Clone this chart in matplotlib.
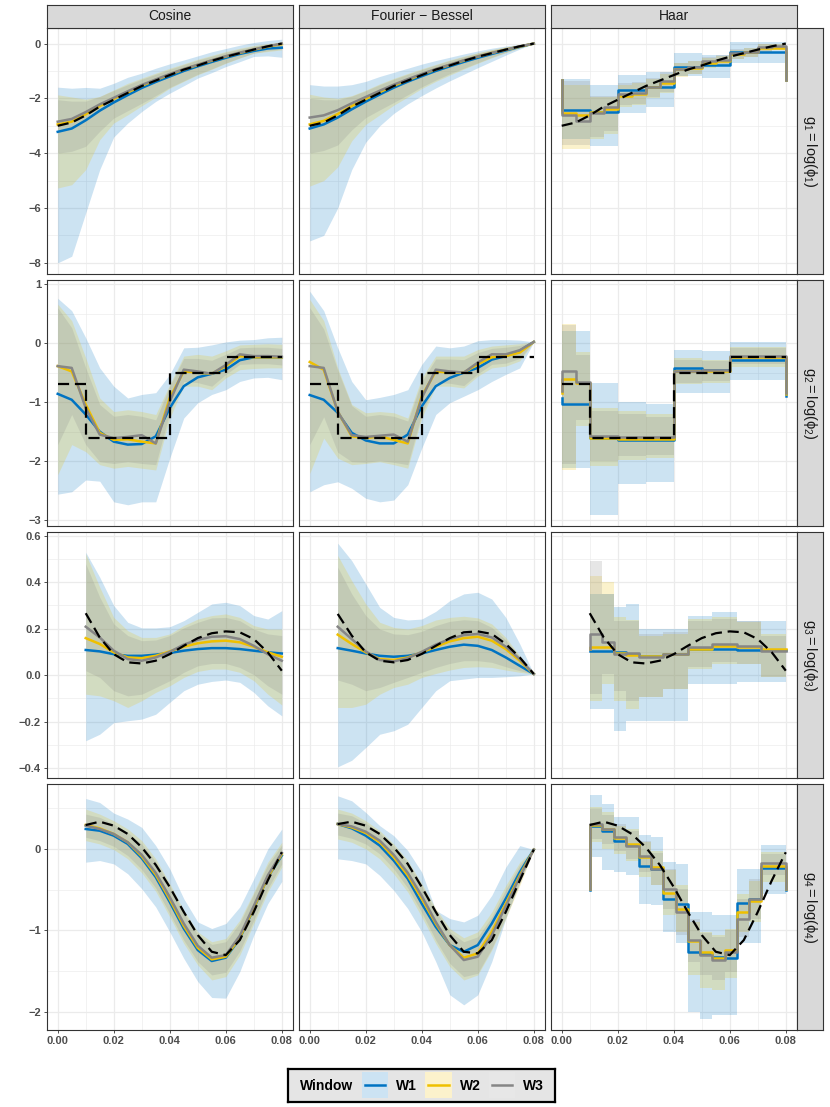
import numpy as np
import matplotlib
matplotlib.use("Agg")
import matplotlib.pyplot as plt
from matplotlib.colors import to_rgb

plt.rcParams['font.family'] = ['Liberation Sans', 'DejaVu Sans']
plt.rcParams['mathtext.fontset'] = 'custom'
plt.rcParams['mathtext.rm'] = 'Liberation Sans'
plt.rcParams['mathtext.it'] = 'Liberation Sans:italic'

# ---------------- data ----------------
windows = ["W1", "W2", "W3"]
bases = ["Cosine", "Fourier \u2212 Bessel", "Haar"]
row_labels = [r"$\mathrm{g_1 = log(\phi_1)}$", r"$\mathrm{g_2 = log(\phi_2)}$",
              r"$\mathrm{g_3 = log(\phi_3)}$", r"$\mathrm{g_4 = log(\phi_4)}$"]

x_full = [0.000, 0.005, 0.010, 0.015, 0.020, 0.025, 0.030, 0.035, 0.040,
          0.045, 0.050, 0.055, 0.060, 0.065, 0.070, 0.075, 0.080]
x_part = [0.010, 0.015, 0.020, 0.025, 0.030, 0.035, 0.040,
          0.045, 0.050, 0.055, 0.060, 0.065, 0.070, 0.075, 0.080]
x_ticks = [0.00, 0.02, 0.04, 0.06, 0.08]
y_ticks = [[-8, -6, -4, -2, 0], [-3, -2, -1, 0, 1],
           [-0.4, -0.2, 0.0, 0.2, 0.4, 0.6], [-2, -1, 0]]

# true functions
g1_true = [-3.0, -2.88, -2.62, -2.3, -2.05, -1.8, -1.55, -1.35, -1.15, -0.95, -0.8, -0.63, -0.48, -0.35, -0.22, -0.1, 0.0]
g2_edges = [0.0, 0.01, 0.04, 0.06, 0.08]
g2_levels = [-0.69, -1.6, -0.51, -0.23]
g3_true = [0.266, 0.162, 0.09, 0.055, 0.05, 0.062, 0.09, 0.126, 0.159, 0.18, 0.188, 0.184, 0.155, 0.098, 0.019]
g3_true_fb = [0.263, 0.17, 0.098, 0.062, 0.055, 0.065, 0.091, 0.126, 0.159, 0.184, 0.188, 0.177, 0.134, 0.076, 0.005]
g4_true = [0.294, 0.335, 0.286, 0.184, 0.02, -0.196, -0.469, -0.775, -1.06, -1.265, -1.306, -1.122, -0.775, -0.388, -0.041]
g4_true_fb = [0.306, 0.335, 0.286, 0.184, 0.02, -0.184, -0.469, -0.775, -1.06, -1.265, -1.285, -1.122, -0.775, -0.388, -0.008]

# Cosine, g1
cos_g1 = {"W1": [-3.22, -3.1, -2.8, -2.45, -2.15, -1.88, -1.62, -1.4, -1.2, -1.0, -0.83, -0.67, -0.52, -0.38, -0.27, -0.18, -0.15],
          "W2": [-2.95, -2.85, -2.58, -2.28, -2.02, -1.78, -1.54, -1.33, -1.13, -0.94, -0.78, -0.62, -0.47, -0.34, -0.22, -0.11, -0.02],
          "W3": [-2.85, -2.75, -2.5, -2.22, -1.98, -1.74, -1.51, -1.31, -1.11, -0.93, -0.77, -0.61, -0.46, -0.33, -0.21, -0.1, 0.0]}
cos_g1_hi = {"W1": [-1.59, -1.63, -1.6, -1.63, -1.45, -1.23, -1.08, -0.9, -0.74, -0.6, -0.45, -0.3, -0.18, -0.06, 0.04, 0.11, 0.16],
             "W2": [-1.87, -1.95, -2.03, -1.93, -1.69, -1.45, -1.26, -1.08, -0.9, -0.74, -0.57, -0.43, -0.29, -0.17, -0.07, 0.0, 0.04],
             "W3": [-2.05, -2.1, -2.1, -1.93, -1.71, -1.5, -1.3, -1.12, -0.94, -0.77, -0.6, -0.46, -0.32, -0.2, -0.1, -0.02, 0.02]}
cos_g1_lo = {"W1": [-8.0, -7.76, -6.18, -4.6, -3.41, -2.9, -2.48, -2.11, -1.81, -1.54, -1.26, -1.06, -0.84, -0.66, -0.47, -0.45, -0.5],
             "W2": [-5.27, -5.15, -4.6, -3.51, -2.9, -2.6, -2.27, -1.96, -1.63, -1.38, -1.14, -0.94, -0.72, -0.53, -0.35, -0.29, -0.23],
             "W3": [-4.0, -3.93, -3.75, -3.2, -2.72, -2.45, -2.18, -1.9, -1.6, -1.36, -1.12, -0.92, -0.71, -0.52, -0.35, -0.26, -0.2]}

# Fourier-Bessel, g1
fb_g1 = {"W1": [-3.1, -2.95, -2.7, -2.4, -2.12, -1.86, -1.61, -1.39, -1.19, -1.0, -0.83, -0.67, -0.52, -0.38, -0.25, -0.12, 0.0],
         "W2": [-2.95, -2.82, -2.57, -2.28, -2.02, -1.77, -1.54, -1.33, -1.13, -0.94, -0.78, -0.62, -0.47, -0.34, -0.22, -0.11, 0.0],
         "W3": [-2.7, -2.62, -2.43, -2.18, -1.95, -1.72, -1.5, -1.3, -1.11, -0.93, -0.77, -0.61, -0.47, -0.34, -0.22, -0.1, 0.0]}
fb_g1_hi = {"W1": [-1.5, -1.55, -1.55, -1.5, -1.38, -1.2, -1.05, -0.9, -0.75, -0.62, -0.5, -0.38, -0.27, -0.17, -0.09, -0.03, 0.0],
            "W2": [-1.85, -1.95, -2.0, -1.9, -1.7, -1.47, -1.27, -1.09, -0.92, -0.76, -0.6, -0.46, -0.33, -0.22, -0.12, -0.05, 0.0],
            "W3": [-2.0, -2.05, -2.05, -1.92, -1.72, -1.5, -1.3, -1.12, -0.95, -0.78, -0.62, -0.48, -0.35, -0.23, -0.13, -0.05, 0.0]}
fb_g1_lo = {"W1": [-7.2, -7.0, -6.0, -4.6, -3.6, -3.0, -2.55, -2.2, -1.9, -1.62, -1.36, -1.12, -0.88, -0.65, -0.42, -0.2, 0.0],
            "W2": [-5.2, -5.0, -4.5, -3.55, -2.95, -2.6, -2.25, -1.95, -1.64, -1.38, -1.15, -0.93, -0.72, -0.52, -0.33, -0.16, 0.0],
            "W3": [-4.0, -3.9, -3.7, -3.15, -2.7, -2.42, -2.15, -1.87, -1.58, -1.33, -1.1, -0.9, -0.7, -0.5, -0.32, -0.15, 0.0]}

# Cosine, g2
cos_g2 = {"W1": [-0.86, -0.96, -1.21, -1.5, -1.67, -1.72, -1.71, -1.58, -1.1, -0.73, -0.58, -0.52, -0.45, -0.29, -0.24, -0.24, -0.24],
          "W2": [-0.39, -0.48, -1.04, -1.52, -1.64, -1.63, -1.67, -1.7, -0.93, -0.48, -0.5, -0.52, -0.39, -0.22, -0.24, -0.24, -0.24],
          "W3": [-0.39, -0.42, -1.1, -1.55, -1.61, -1.59, -1.56, -1.7, -0.99, -0.45, -0.48, -0.52, -0.37, -0.19, -0.22, -0.22, -0.23]}
cos_g2_hi = {"W1": [0.76, 0.55, 0.09, -0.42, -0.73, -0.93, -0.87, -0.84, -0.53, -0.08, -0.07, -0.03, 0.02, 0.05, 0.06, 0.09, 0.1],
             "W2": [0.66, 0.38, -0.25, -0.93, -1.16, -1.13, -1.16, -1.21, -0.7, -0.22, -0.19, -0.22, -0.13, -0.03, -0.02, -0.01, -0.02],
             "W3": [0.6, 0.26, -0.42, -1.04, -1.24, -1.21, -1.24, -1.3, -0.73, -0.26, -0.26, -0.29, -0.19, -0.08, -0.07, -0.07, -0.09]}
cos_g2_lo = {"W1": [-2.56, -2.52, -2.32, -2.34, -2.69, -2.74, -2.69, -2.69, -1.95, -1.27, -1.01, -0.87, -0.79, -0.65, -0.59, -0.58, -0.62],
             "W2": [-2.23, -1.72, -1.84, -2.06, -2.12, -2.09, -2.12, -2.15, -1.27, -0.73, -0.73, -0.79, -0.59, -0.45, -0.43, -0.42, -0.42],
             "W3": [-1.72, -1.21, -1.72, -2.01, -2.04, -2.01, -2.04, -2.06, -1.18, -0.65, -0.67, -0.73, -0.53, -0.36, -0.35, -0.35, -0.37]}

# Fourier-Bessel, g2
fb_g2 = {"W1": [-0.88, -0.96, -1.18, -1.52, -1.65, -1.7, -1.7, -1.55, -1.07, -0.73, -0.59, -0.5, -0.42, -0.28, -0.22, -0.13, 0.02],
         "W2": [-0.32, -0.45, -1.16, -1.58, -1.61, -1.58, -1.64, -1.7, -0.9, -0.48, -0.5, -0.5, -0.36, -0.24, -0.22, -0.16, 0.02],
         "W3": [-0.39, -0.42, -1.16, -1.56, -1.59, -1.57, -1.55, -1.67, -0.93, -0.45, -0.48, -0.5, -0.33, -0.19, -0.19, -0.12, 0.02]}
fb_g2_hi = {"W1": [0.88, 0.55, -0.08, -0.65, -0.96, -0.92, -0.87, -0.79, -0.36, -0.05, -0.08, -0.05, 0.04, 0.06, 0.06, 0.05, 0.02],
            "W2": [0.74, 0.38, -0.42, -1.04, -1.18, -1.16, -1.18, -1.27, -0.59, -0.22, -0.22, -0.22, -0.11, -0.05, -0.03, -0.01, 0.02],
            "W3": [0.6, 0.24, -0.46, -1.06, -1.24, -1.21, -1.24, -1.32, -0.65, -0.27, -0.27, -0.28, -0.16, -0.09, -0.07, -0.04, 0.02]}
fb_g2_lo = {"W1": [-2.52, -2.4, -2.35, -2.46, -2.63, -2.69, -2.66, -2.4, -1.78, -1.21, -1.01, -0.9, -0.79, -0.65, -0.53, -0.42, 0.02],
            "W2": [-2.21, -1.61, -1.95, -2.06, -2.04, -2.01, -2.06, -2.12, -1.27, -0.73, -0.73, -0.76, -0.56, -0.42, -0.39, -0.3, 0.02],
            "W3": [-1.72, -1.25, -1.85, -2.01, -2.02, -1.99, -2.02, -2.06, -1.2, -0.67, -0.68, -0.72, -0.52, -0.36, -0.34, -0.26, 0.02]}

# Cosine, g3
cos_g3 = {"W1": [0.108, 0.102, 0.09, 0.083, 0.083, 0.088, 0.095, 0.105, 0.112, 0.116, 0.116, 0.112, 0.105, 0.098, 0.093],
          "W2": [0.159, 0.134, 0.098, 0.076, 0.073, 0.083, 0.102, 0.122, 0.137, 0.145, 0.148, 0.141, 0.122, 0.098, 0.079],
          "W3": [0.208, 0.162, 0.105, 0.069, 0.062, 0.076, 0.1, 0.131, 0.152, 0.165, 0.167, 0.155, 0.126, 0.09, 0.062]}
cos_g3_hi = {"W1": [0.528, 0.421, 0.299, 0.227, 0.203, 0.203, 0.208, 0.234, 0.27, 0.306, 0.313, 0.299, 0.256, 0.241, 0.277],
             "W2": [0.521, 0.378, 0.248, 0.191, 0.162, 0.162, 0.177, 0.213, 0.241, 0.256, 0.263, 0.248, 0.213, 0.198, 0.198],
             "W3": [0.478, 0.335, 0.22, 0.17, 0.148, 0.151, 0.17, 0.203, 0.227, 0.246, 0.248, 0.234, 0.198, 0.177, 0.17]}
cos_g3_lo = {"W1": [-0.282, -0.254, -0.204, -0.196, -0.189, -0.168, -0.117, -0.067, -0.039, -0.027, -0.021, -0.031, -0.074, -0.132, -0.175],
             "W2": [-0.082, -0.089, -0.11, -0.139, -0.11, -0.074, -0.046, -0.01, 0.016, 0.026, 0.026, 0.012, -0.024, -0.082, -0.128],
             "W3": [0.019, -0.01, -0.067, -0.089, -0.082, -0.053, -0.024, 0.012, 0.04, 0.05, 0.05, 0.033, 0.002, -0.046, -0.082]}

# Fourier-Bessel, g3
fb_g3 = {"W1": [0.116, 0.105, 0.093, 0.083, 0.079, 0.083, 0.093, 0.108, 0.122, 0.131, 0.126, 0.108, 0.076, 0.04, 0.005],
         "W2": [0.174, 0.134, 0.098, 0.069, 0.065, 0.076, 0.098, 0.122, 0.145, 0.159, 0.165, 0.148, 0.112, 0.062, 0.005],
         "W3": [0.208, 0.155, 0.102, 0.065, 0.059, 0.073, 0.1, 0.131, 0.155, 0.172, 0.177, 0.162, 0.122, 0.069, 0.005]}
fb_g3_hi = {"W1": [0.567, 0.492, 0.392, 0.291, 0.248, 0.237, 0.241, 0.274, 0.32, 0.349, 0.356, 0.327, 0.248, 0.134, 0.005],
            "W2": [0.514, 0.406, 0.306, 0.227, 0.205, 0.198, 0.213, 0.237, 0.248, 0.253, 0.246, 0.22, 0.162, 0.083, 0.005],
            "W3": [0.464, 0.349, 0.256, 0.198, 0.177, 0.174, 0.188, 0.213, 0.231, 0.238, 0.234, 0.205, 0.151, 0.079, 0.005]}
fb_g3_lo = {"W1": [-0.394, -0.366, -0.311, -0.254, -0.239, -0.211, -0.139, -0.067, -0.024, -0.017, -0.01, -0.01, -0.007, -0.003, 0.005],
            "W2": [-0.139, -0.139, -0.125, -0.082, -0.053, -0.039, -0.01, 0.007, 0.022, 0.033, 0.036, 0.033, 0.022, 0.012, 0.005],
            "W3": [-0.021, -0.039, -0.067, -0.053, -0.031, -0.01, 0.012, 0.033, 0.05, 0.062, 0.062, 0.055, 0.036, 0.019, 0.005]}

# Cosine, g4
cos_g4 = {"W1": [0.245, 0.224, 0.163, 0.061, -0.114, -0.347, -0.653, -0.979, -1.244, -1.379, -1.338, -1.102, -0.734, -0.347, -0.082],
          "W2": [0.294, 0.253, 0.184, 0.082, -0.09, -0.318, -0.62, -0.947, -1.216, -1.359, -1.326, -1.093, -0.726, -0.347, -0.065],
          "W3": [0.286, 0.245, 0.184, 0.082, -0.073, -0.294, -0.592, -0.918, -1.191, -1.338, -1.306, -1.069, -0.702, -0.326, -0.049]}
cos_g4_hi = {"W1": [0.62, 0.571, 0.441, 0.367, 0.265, 0.041, -0.245, -0.612, -0.898, -0.979, -0.918, -0.714, -0.367, 0.0, 0.245],
             "W2": [0.49, 0.428, 0.347, 0.245, 0.102, -0.122, -0.428, -0.755, -1.02, -1.142, -1.102, -0.877, -0.53, -0.163, 0.082],
             "W3": [0.428, 0.388, 0.306, 0.204, 0.061, -0.155, -0.457, -0.783, -1.053, -1.175, -1.142, -0.91, -0.551, -0.196, 0.049]}
cos_g4_lo = {"W1": [-0.163, -0.143, -0.184, -0.306, -0.49, -0.714, -1.02, -1.346, -1.632, -1.828, -1.836, -1.51, -1.061, -0.673, -0.4],
             "W2": [0.102, 0.061, -0.008, -0.122, -0.294, -0.522, -0.836, -1.163, -1.428, -1.612, -1.571, -1.306, -0.918, -0.53, -0.224],
             "W3": [0.143, 0.102, 0.033, -0.082, -0.253, -0.481, -0.796, -1.122, -1.387, -1.55, -1.518, -1.257, -0.877, -0.49, -0.184]}

# Fourier-Bessel, g4
fb_g4 = {"W1": [0.306, 0.253, 0.163, 0.041, -0.143, -0.367, -0.673, -0.959, -1.183, -1.265, -1.183, -0.918, -0.612, -0.286, -0.008],
         "W2": [0.306, 0.265, 0.196, 0.082, -0.102, -0.326, -0.612, -0.918, -1.183, -1.338, -1.285, -1.02, -0.673, -0.326, -0.008],
         "W3": [0.306, 0.277, 0.212, 0.102, -0.073, -0.294, -0.579, -0.898, -1.183, -1.367, -1.326, -1.061, -0.702, -0.347, -0.008]}
fb_g4_hi = {"W1": [0.653, 0.592, 0.449, 0.286, 0.163, -0.02, -0.286, -0.755, -0.857, -0.898, -0.816, -0.571, -0.224, 0.041, -0.008],
            "W2": [0.49, 0.441, 0.347, 0.224, 0.061, -0.143, -0.428, -0.734, -0.979, -1.093, -1.02, -0.775, -0.449, -0.163, -0.008],
            "W3": [0.441, 0.408, 0.318, 0.196, 0.033, -0.171, -0.457, -0.767, -1.02, -1.142, -1.081, -0.836, -0.498, -0.196, -0.008]}
fb_g4_lo = {"W1": [-0.122, -0.143, -0.184, -0.326, -0.51, -0.734, -1.02, -1.387, -1.795, -1.918, -1.795, -1.387, -0.857, -0.408, -0.008],
            "W2": [0.122, 0.082, 0.0, -0.122, -0.306, -0.53, -0.836, -1.163, -1.448, -1.612, -1.55, -1.244, -0.857, -0.449, -0.008],
            "W3": [0.171, 0.131, 0.061, -0.061, -0.245, -0.481, -0.783, -1.122, -1.408, -1.571, -1.53, -1.224, -0.836, -0.428, -0.008]}

# Haar, g1 (bins on [0, 0.08])
haar_g1 = {"W1": [-2.42, -2.5, -1.71, -1.59, -0.84, -0.78, -0.29, -0.29],
           "W2": [-2.55, -2.62, -2.5, -2.38, -1.9, -1.85, -1.6, -1.45, -0.93, -0.88, -0.7, -0.62, -0.38, -0.32, -0.18, -0.15],
           "W3": [-2.6, -2.84, -2.54, -2.32, -1.84, -1.81, -1.59, -1.38, -0.94, -0.84, -0.65, -0.59, -0.35, -0.29, -0.11, -0.08]}
haar_g1_ends = {"W1": (-1.32, -1.32), "W2": (-1.32, -1.32), "W3": (-1.32, -1.32)}
haar_g1_hi = {"W1": [-1.3, -1.5, -1.14, -1.02, -0.35, -0.41, 0.04, 0.04],
              "W2": [-1.5, -1.5, -1.95, -1.95, -1.5, -1.45, -1.3, -1.1, -0.72, -0.65, -0.52, -0.45, -0.22, -0.17, -0.03, 0.0],
              "W3": [-1.35, -1.35, -1.9, -1.9, -1.45, -1.4, -1.25, -1.05, -0.7, -0.62, -0.5, -0.42, -0.2, -0.15, -0.02, 0.0]}
haar_g1_lo = {"W1": [-3.5, -3.75, -2.54, -2.3, -1.2, -1.26, -0.72, -0.72],
              "W2": [-3.85, -3.85, -3.5, -3.3, -2.3, -2.25, -2.0, -1.8, -1.22, -1.12, -0.88, -0.8, -0.56, -0.5, -0.32, -0.22],
              "W3": [-3.7, -3.7, -3.4, -3.2, -2.25, -2.2, -1.95, -1.75, -1.2, -1.1, -0.85, -0.78, -0.55, -0.48, -0.3, -0.2]}

# Haar, g2 (bins on [0, 0.08])
haar_g2 = {"W1": [-1.03, -1.61, -1.64, -1.64, -0.43, -0.45, -0.28, -0.28],
           "W2": [-0.6, -0.67, -1.6, -1.6, -1.62, -1.62, -1.62, -1.62, -0.47, -0.47, -0.47, -0.47, -0.24, -0.24, -0.24, -0.24],
           "W3": [-0.48, -0.66, -1.58, -1.58, -1.59, -1.59, -1.59, -1.59, -0.48, -0.48, -0.46, -0.46, -0.22, -0.22, -0.22, -0.22]}
haar_g2_ends = {"W1": (-0.93, -0.9), "W2": (-0.84, -0.87), "W3": (-0.82, -0.84)}
haar_g2_hi = {"W1": [0.2, -0.67, -1.0, -1.04, -0.11, -0.13, 0.02, 0.02],
              "W2": [0.33, -0.15, -1.1, -1.1, -1.15, -1.15, -1.2, -1.2, -0.26, -0.26, -0.28, -0.28, -0.07, -0.07, -0.07, -0.07],
              "W3": [0.3, -0.2, -1.15, -1.15, -1.2, -1.2, -1.25, -1.25, -0.28, -0.28, -0.3, -0.3, -0.09, -0.09, -0.09, -0.09]}
haar_g2_lo = {"W1": [-2.12, -2.91, -2.38, -2.35, -0.84, -0.84, -0.62, -0.62],
              "W2": [-2.15, -1.4, -2.08, -2.08, -1.98, -1.98, -1.95, -1.95, -0.7, -0.7, -0.68, -0.68, -0.4, -0.4, -0.4, -0.4],
              "W3": [-2.05, -1.3, -2.0, -2.0, -1.92, -1.92, -1.9, -1.9, -0.67, -0.67, -0.65, -0.65, -0.36, -0.36, -0.36, -0.36]}

# Haar, g3 (bins on [0.01, 0.08])
haar_g3 = {"W1": [0.105, 0.102, 0.098, 0.091, 0.083, 0.083, 0.091, 0.091, 0.112, 0.112, 0.112, 0.112, 0.108, 0.108, 0.108, 0.108],
           "W2": [0.122, 0.119, 0.093, 0.088, 0.083, 0.083, 0.091, 0.091, 0.112, 0.112, 0.126, 0.126, 0.122, 0.122, 0.112, 0.112],
           "W3": [0.177, 0.141, 0.091, 0.093, 0.079, 0.079, 0.091, 0.091, 0.122, 0.122, 0.134, 0.134, 0.126, 0.126, 0.105, 0.105]}
haar_g3_ends = {"W1": (0.105, 0.108), "W2": (0.112, 0.112), "W3": (0.112, 0.105)}
haar_g3_hi = {"W1": [0.349, 0.349, 0.294, 0.306, 0.198, 0.198, 0.198, 0.198, 0.256, 0.256, 0.27, 0.27, 0.234, 0.234, 0.234, 0.234],
              "W2": [0.428, 0.4, 0.248, 0.237, 0.17, 0.17, 0.177, 0.177, 0.241, 0.241, 0.248, 0.248, 0.227, 0.227, 0.177, 0.177],
              "W3": [0.492, 0.349, 0.234, 0.234, 0.177, 0.177, 0.184, 0.184, 0.234, 0.234, 0.241, 0.241, 0.234, 0.234, 0.17, 0.17]}
haar_g3_lo = {"W1": [-0.146, -0.146, -0.239, -0.196, -0.196, -0.196, -0.196, -0.196, -0.039, -0.039, -0.039, -0.039, -0.031, -0.031, -0.031, -0.031],
              "W2": [-0.11, -0.039, -0.11, -0.146, -0.096, -0.096, -0.06, -0.06, 0.026, 0.026, 0.048, 0.048, 0.048, 0.048, -0.01, -0.01],
              "W3": [-0.082, 0.005, -0.067, -0.11, -0.096, -0.096, -0.06, -0.06, 0.033, 0.033, 0.055, 0.055, 0.048, 0.048, -0.01, -0.01]}

# Haar, g4 (bins on [0.01, 0.08])
haar_g4 = {"W1": [0.286, 0.224, 0.102, 0.049, -0.204, -0.245, -0.612, -0.673, -1.265, -1.293, -1.326, -1.338, -0.661, -0.62, -0.237, -0.237],
           "W2": [0.294, 0.245, 0.131, 0.061, -0.102, -0.224, -0.539, -0.734, -1.13, -1.273, -1.338, -1.244, -0.775, -0.645, -0.212, -0.212],
           "W3": [0.306, 0.245, 0.143, 0.041, -0.082, -0.245, -0.49, -0.775, -1.122, -1.306, -1.367, -1.265, -0.857, -0.612, -0.171, -0.171]}
haar_g4_ends = {"W1": (-0.5, -0.5), "W2": (-0.49, -0.49), "W3": (-0.49, -0.49)}
haar_g4_hi = {"W1": [0.661, 0.551, 0.388, 0.388, 0.171, 0.143, -0.163, -0.184, -0.775, -0.775, -0.816, -0.816, -0.253, -0.253, 0.049, 0.049],
              "W2": [0.51, 0.449, 0.286, 0.245, 0.082, -0.02, -0.265, -0.449, -0.898, -1.02, -1.061, -0.979, -0.551, -0.4, -0.041, -0.041],
              "W3": [0.49, 0.416, 0.306, 0.224, 0.102, -0.049, -0.245, -0.49, -0.857, -1.04, -1.081, -1.0, -0.612, -0.367, -0.061, -0.061]}
haar_g4_lo = {"W1": [-0.102, -0.265, -0.286, -0.326, -0.673, -0.694, -1.02, -1.163, -2.0, -2.09, -2.04, -2.04, -1.163, -1.163, -0.551, -0.551],
              "W2": [0.082, 0.0, -0.061, -0.143, -0.347, -0.449, -0.816, -1.02, -1.55, -1.714, -1.734, -1.591, -1.02, -0.898, -0.408, -0.408],
              "W3": [0.122, 0.061, -0.02, -0.122, -0.286, -0.449, -0.734, -1.061, -1.387, -1.55, -1.612, -1.51, -1.081, -0.857, -0.326, -0.326]}

haar_range = [(0.0, 0.08), (0.0, 0.08), (0.01, 0.08), (0.01, 0.08)]

# ---------------- style ----------------
win_colors = {"W1": "#0073C2", "W2": "#EFC000", "W3": "#868686"}
ribbon_alpha = 0.2
dark = "#333333"
grid_col = "#EBEBEB"
strip_bg = "#D9D9D9"
line_w = 1.8

W, H = 830, 1107
col_left = [46.5, 298.5, 550.5]
row_top = [28, 280, 532, 784]
pw, ph = 246.5, 246


def frac(x0, y0, w, h):
    return [x0 / W, 1 - (y0 + h) / H, w / W, h / H]


def step_xy(edges, vals, ends=None):
    xs, ys = [], []
    if ends is not None:
        xs.append(edges[0]); ys.append(ends[0])
    for i, v in enumerate(vals):
        xs += [edges[i], edges[i + 1]]
        ys += [v, v]
    if ends is not None:
        xs.append(edges[-1]); ys.append(ends[1])
    return xs, ys


def draw_true(ax, r, x, y):
    kw = dict(color="black", lw=1.6, dashes=(5, 2.6), zorder=5)
    if r == 1:
        xs, ys = step_xy(g2_edges, g2_levels)
        ax.plot(xs, ys, **kw)
    else:
        ax.plot(x, y, **kw)


def draw_smooth(ax, x, mid, lo, hi):
    for w in windows:
        ax.fill_between(x, lo[w], hi[w], color=win_colors[w], alpha=ribbon_alpha, lw=0, zorder=2)
    for w in windows:
        ax.plot(x, mid[w], color=win_colors[w], lw=line_w, zorder=3)


def draw_haar(ax, rng, mid, lo, hi, ends):
    for w in windows:
        e = np.linspace(rng[0], rng[1], len(mid[w]) + 1)
        xs, ylo = step_xy(e, lo[w])
        _, yhi = step_xy(e, hi[w])
        ax.fill_between(xs, ylo, yhi, color=win_colors[w], alpha=ribbon_alpha, lw=0, zorder=2)
    for w in windows:
        e = np.linspace(rng[0], rng[1], len(mid[w]) + 1)
        xs, ys = step_xy(e, mid[w], ends[w])
        ax.plot(xs, ys, color=win_colors[w], lw=line_w, zorder=3)


panels = [
    [(x_full, cos_g1, cos_g1_lo, cos_g1_hi), (x_full, fb_g1, fb_g1_lo, fb_g1_hi), (haar_g1, haar_g1_lo, haar_g1_hi, haar_g1_ends)],
    [(x_full, cos_g2, cos_g2_lo, cos_g2_hi), (x_full, fb_g2, fb_g2_lo, fb_g2_hi), (haar_g2, haar_g2_lo, haar_g2_hi, haar_g2_ends)],
    [(x_part, cos_g3, cos_g3_lo, cos_g3_hi), (x_part, fb_g3, fb_g3_lo, fb_g3_hi), (haar_g3, haar_g3_lo, haar_g3_hi, haar_g3_ends)],
    [(x_part, cos_g4, cos_g4_lo, cos_g4_hi), (x_part, fb_g4, fb_g4_lo, fb_g4_hi), (haar_g4, haar_g4_lo, haar_g4_hi, haar_g4_ends)],
]
trues = [[(x_full, g1_true), (x_full, g1_true), (x_full, g1_true)],
         [(None, None)] * 3,
         [(x_part, g3_true), (x_part, g3_true_fb), (x_part, g3_true)],
         [(x_part, g4_true), (x_part, g4_true_fb), (x_part, g4_true)]]


def row_limits(r):
    vals = []
    for p in panels[r]:
        for d in p:
            if isinstance(d, dict):
                for v in d.values():
                    vals += list(np.ravel(v))
    lo, hi = min(vals), max(vals)
    pad = 0.05 * (hi - lo)
    return lo - pad, hi + pad


def minor_of(major, lim):
    step = major[1] - major[0]
    cand = [m + step / 2 for m in [major[0] - step] + list(major)]
    return [c for c in cand if lim[0] <= c <= lim[1]]


def fmt(v, r):
    s = "{:.1f}".format(v) if r == 2 else "{:g}".format(v)
    return s.replace("-", "\u2212")


fig = plt.figure(figsize=(W / 100, H / 100), dpi=100)

for r in range(4):
    ylim = row_limits(r)
    for c in range(3):
        ax = fig.add_axes(frac(col_left[c], row_top[r], pw, ph))
        if c < 2:
            draw_smooth(ax, *panels[r][c])
        else:
            mid, lo, hi, ends = panels[r][c]
            draw_haar(ax, haar_range[r], mid, lo, hi, ends)
        tx, ty = trues[r][c]
        draw_true(ax, r, tx, ty)

        ax.set_xlim(-0.004, 0.084)
        ax.set_ylim(*ylim)
        ax.set_xticks(x_ticks)
        ax.set_xticks(minor_of(x_ticks, (-0.004, 0.084)), minor=True)
        ax.set_yticks(y_ticks[r])
        ax.set_yticks(minor_of(y_ticks[r], ylim), minor=True)
        ax.grid(which="major", color=grid_col, lw=0.9, zorder=0)
        ax.grid(which="minor", color=grid_col, lw=0.45, zorder=0)
        ax.set_axisbelow(True)
        for s in ax.spines.values():
            s.set_color(dark)
            s.set_linewidth(0.8)
        ax.tick_params(which="minor", length=0)
        ax.tick_params(which="major", length=2.5, width=0.6, color=dark,
                       labelsize=8, labelcolor="#4D4D4D", pad=1.5)
        if c == 0:
            ax.set_yticklabels([fmt(v, r) for v in y_ticks[r]], fontweight="bold")
        else:
            ax.tick_params(axis="y", length=0, labelleft=False)
        if r == 3:
            ax.set_xticklabels(["{:.2f}".format(v) for v in x_ticks], fontweight="bold")
        else:
            ax.tick_params(axis="x", length=0, labelbottom=False)

# strips
for c in range(3):
    sa = fig.add_axes(frac(col_left[c], 5, pw, 23))
    sa.set_facecolor(strip_bg)
    sa.set_xticks([]); sa.set_yticks([])
    for s in sa.spines.values():
        s.set_color(dark); s.set_linewidth(0.8)
    sa.text(0.5, 0.5, bases[c], ha="center", va="center", fontsize=10, color="#1A1A1A",
            transform=sa.transAxes)
for r in range(4):
    sa = fig.add_axes(frac(797, row_top[r], 26, ph))
    sa.set_facecolor(strip_bg)
    sa.set_xticks([]); sa.set_yticks([])
    for s in sa.spines.values():
        s.set_color(dark); s.set_linewidth(0.8)
    sa.text(0.5, 0.5, row_labels[r], ha="center", va="center", fontsize=10.5, color="#1A1A1A",
            rotation=-90, transform=sa.transAxes)

# legend
lg = fig.add_axes(frac(288, 1069, 267, 33))
lg.set_xlim(0, 267); lg.set_ylim(0, 33)
lg.set_facecolor("#E5E5E5")
lg.set_xticks([]); lg.set_yticks([])
for s in lg.spines.values():
    s.set_color("black"); s.set_linewidth(1.6)
lg.text(12, 16.5, "Window", fontsize=10, fontweight="bold", va="center", ha="left", color="black")
key_x = [73.5, 137, 200.5]
for w, kx in zip(windows, key_x):
    rgb = np.array(to_rgb(win_colors[w]))
    key_fill = ribbon_alpha * rgb + (1 - ribbon_alpha) * np.ones(3)
    lg.add_patch(plt.Rectangle((kx, 3.7), 26.5, 26, facecolor=key_fill, edgecolor="none"))
    lg.plot([kx + 3, kx + 23.5], [16.7, 16.7], color=win_colors[w], lw=line_w)
    lg.text(kx + 34.5, 16.5, w, fontsize=10, fontweight="bold", va="center", ha="left", color="black")

fig.savefig("out.png", dpi=100)
